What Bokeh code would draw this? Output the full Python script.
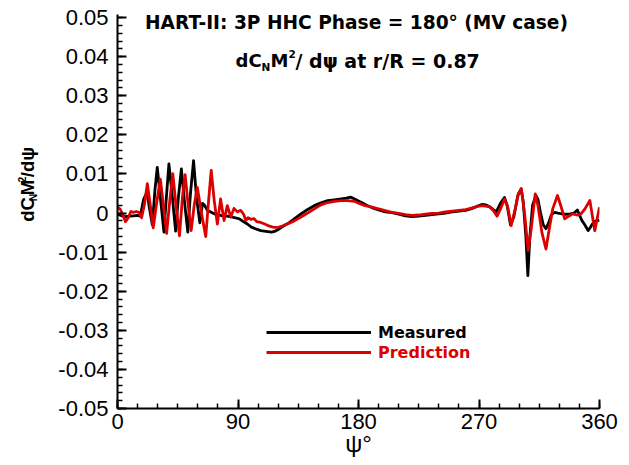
import math
from bokeh.plotting import figure
from bokeh.layouts import row
from bokeh.models import (Range1d, FixedTicker, Label, Legend, LegendItem,
                          CustomJSTickFormatter)
from bokeh.embed import file_html
from bokeh.resources import INLINE

# ---------------- data ----------------
psi_measured = [0, 3, 6, 9, 12, 15, 17, 19.5, 22, 24, 26, 28, 29.7, 32, 34.7, 36.5,
                38.4, 41, 43.4, 45.5, 47.7, 50, 52.5, 54.5, 56.8, 59, 61.5, 63.5, 65,
                67, 70, 73, 76, 79, 82, 85, 88, 91, 94, 97, 100, 103, 107, 111, 115,
                118, 121, 124.5, 128, 132, 137, 142, 147, 152, 157, 162, 167, 171,
                174, 177, 180, 183, 186, 190, 195, 200, 205, 210, 215, 220, 225, 230,
                235, 240, 245, 250, 255, 260, 265, 269, 272, 275, 278, 281, 283, 286,
                289, 291, 293.5, 296, 299, 301.5, 303, 305, 306.5, 308, 310, 312.5,
                314, 316, 318, 320, 322, 324, 326.5, 329, 332, 335, 338, 341, 343.5,
                345, 347, 349, 351.5, 354, 356, 358, 360]
measured = [-0.0003, -0.0007, -0.0009, -0.0008, -0.0007, -0.0006, -0.0008, 0.0035,
            0.0053, 0.001, -0.003, 0.006, 0.0117, 0.004, -0.0049, 0.004, 0.0126, 0.004,
            -0.0046, 0.004, 0.0113, 0.003, -0.0049, 0.005, 0.0134, 0.004, -0.0025,
            0.0025, 0.002, 0.0008, 0.0002, -0.0003, -0.0005, -0.0008, -0.0008, -0.001,
            -0.0012, -0.0015, -0.0022, -0.0028, -0.0036, -0.004, -0.0045, -0.0047,
            -0.0049, -0.0046, -0.004, -0.0032, -0.0025, -0.0015, -0.0002, 0.0009,
            0.0019, 0.0026, 0.0032, 0.0034, 0.0036, 0.0038, 0.0041, 0.0036, 0.0031,
            0.0026, 0.002, 0.0014, 0.0008, 0.0003, 0.0001, -0.0003, -0.0007, -0.0009,
            -0.0008, -0.0006, -0.0004, -0.0002, 0.0, 0.0003, 0.0005, 0.0007, 0.0012,
            0.0018, 0.0022, 0.0021, 0.0016, 0.0008, 0.0004, 0.0025, 0.004, 0.002,
            -0.003, -0.001, 0.0045, 0.0062, 0.003, -0.006, -0.016, -0.006, 0.002,
            0.0045, 0.0035, 0.0, -0.003, -0.004, -0.0025, -0.0005, 0.0002, 0.0,
            -0.0002, -0.0003, -0.0002, 0.0, 0.0008, -0.0005, -0.002, -0.003, -0.0045,
            -0.0032, -0.0022, -0.002, -0.0018]

psi_prediction = [0, 2, 4, 6, 8, 10, 12, 14, 16, 18, 20, 22.3, 24.5, 26.7, 29, 32,
                  34.3, 36.7, 39, 41.3, 43.7, 46.3, 48.5, 50.5, 52.5, 55, 57.3, 59.6,
                  62.7, 65.9, 68, 70, 72.3, 74.6, 77, 79.6, 82, 84.6, 87, 89.5, 92,
                  94.2, 95.8, 97.5, 99.5, 102, 104, 107, 110, 113, 116, 119.5, 123,
                  127, 132, 137, 142, 147, 152, 157, 162, 167, 172, 177, 181, 185,
                  190, 195, 200, 205, 210, 215, 220, 225, 230, 235, 240, 245, 250,
                  255, 260, 265, 269, 272, 275, 278, 281, 283.5, 286, 289, 291.5, 294,
                  297, 299.5, 301.6, 304, 306.7, 309, 312, 314, 317, 320, 322.5, 325,
                  328.6, 331, 334, 337, 340, 343, 346, 349, 352.8, 354.8, 356.5,
                  358.5, 360]
prediction = [0.0015, 0.001, -0.0005, -0.0022, -0.0012, 0.0004, 0.0002, 0.0004,
              0.0002, -0.0012, 0.002, 0.0075, 0.002, -0.0038, 0.002, 0.0087, 0.002,
              -0.0052, 0.003, 0.0101, 0.002, -0.0058, 0.004, 0.0098, 0.003, -0.0045,
              0.002, 0.0066, 0.0, -0.006, 0.003, 0.0109, 0.003, -0.0028, 0.0036,
              -0.0019, 0.0019, -0.001, 0.0012, 0.0003, 0.0007, -0.0003, -0.0019,
              -0.0012, -0.0016, -0.0014, -0.0022, -0.0024, -0.0028, -0.0033, -0.0036,
              -0.0037, -0.0033, -0.0028, -0.002, -0.001, 0.0, 0.0011, 0.0021, 0.0027,
              0.003, 0.0032, 0.0032, 0.003, 0.0024, 0.0019, 0.0015, 0.0011, 0.0006,
              0.0002, -0.0001, -0.0004, -0.0006, -0.0005, -0.0003, -0.0001, 0.0,
              0.0003, 0.0005, 0.0007, 0.0009, 0.0013, 0.0017, 0.0019, 0.0018, 0.0016,
              0.0005, -0.0008, 0.001, 0.0036, 0.0015, -0.0032, 0.001, 0.005, 0.0062,
              0.0, -0.0096, -0.004, 0.0049, 0.002, -0.005, -0.0092, -0.004, 0.001,
              0.0045, 0.002, -0.0015, -0.0008, -0.0002, -0.0005, -0.0003, 0.001,
              0.0032, -0.001, -0.0045, -0.001, 0.0015]

x_ticks = [0, 90, 180, 270, 360]
x_minor_ticks = [0, 15, 30, 45, 60, 75, 90, 105, 120, 135, 150, 165, 180, 195, 210,
                 225, 240, 255, 270, 285, 300, 315, 330, 345, 360]
y_ticks = [-0.05, -0.04, -0.03, -0.02, -0.01, 0.0, 0.01, 0.02, 0.03, 0.04, 0.05]
y_tick_labels = ["-0.05", "-0.04", "-0.03", "-0.02", "-0.01", "0", "0.01", "0.02",
                 "0.03", "0.04", "0.05"]
y_minor_ticks = [round(-0.05 + 0.002 * i, 4) for i in range(51)]

series_names = ["Measured", "Prediction"]
series_colors = ["black", "#dd0000"]
x_title = "ψ°"

# ---------------- layout (page pixels) ----------------
PAGE_W, PAGE_H = 625, 460
LEFT_W = 45                      # narrow panel holding the y-axis title
FRAME_L, FRAME_R, FRAME_T, FRAME_B = 117, 599, 14, 408
Y_BOT, Y_TOP = -0.05, 0.0508     # a little head-room so the title is not clipped

def X(px):
    return (px - FRAME_L) / (FRAME_R - FRAME_L) * 360.0
def Y(py):
    return Y_TOP - (py - FRAME_T) / (FRAME_B - FRAME_T) * (Y_TOP - Y_BOT)

W = PAGE_W - LEFT_W
p = figure(width=W, height=PAGE_H, x_range=Range1d(0, 360), y_range=Range1d(Y_BOT, Y_TOP),
           output_backend="svg", toolbar_location=None,
           min_border_left=FRAME_L - LEFT_W, min_border_right=PAGE_W - FRAME_R,
           min_border_top=FRAME_T, min_border_bottom=PAGE_H - FRAME_B)
p.xgrid.visible = False
p.ygrid.visible = False
p.outline_line_color = None
p.background_fill_color = "white"
p.border_fill_color = "white"

for ax in (p.xaxis[0], p.yaxis[0]):
    ax.axis_line_width = 2
    ax.axis_line_color = "black"
    ax.major_tick_in = 9
    ax.major_tick_out = 0
    ax.minor_tick_in = 5
    ax.minor_tick_out = 0
    ax.major_tick_line_width = 2
    ax.minor_tick_line_width = 1.5
    ax.major_tick_line_color = "black"
    ax.minor_tick_line_color = "black"
    ax.major_label_text_font = "Liberation Sans"
    ax.major_label_text_font_size = "22px"
    ax.major_label_text_color = "black"

p.xaxis[0].ticker = FixedTicker(ticks=x_ticks, minor_ticks=x_minor_ticks)
p.xaxis[0].major_label_standoff = 5
p.xaxis[0].axis_label = x_title
p.xaxis[0].axis_label_text_font = "Liberation Sans"
p.xaxis[0].axis_label_text_font_style = "normal"
p.xaxis[0].axis_label_text_font_size = "24px"
p.xaxis[0].axis_label_text_color = "black"
p.xaxis[0].axis_label_standoff = -2

p.yaxis[0].ticker = FixedTicker(ticks=y_ticks, minor_ticks=y_minor_ticks)
p.yaxis[0].major_label_standoff = 9
p.yaxis[0].formatter = CustomJSTickFormatter(
    args=dict(tick_vals=y_ticks, tick_texts=y_tick_labels),
    code="""
    for (let i = 0; i < tick_vals.length; i++) {
        if (Math.abs(tick_vals[i] - tick) < 1e-9) { return tick_texts[i]; }
    }
    return '';
    """)

r_meas = p.line(psi_measured, measured, line_color=series_colors[0], line_width=2.8,
                line_join="round")
r_pred = p.line(psi_prediction, prediction, line_color=series_colors[1], line_width=2.8,
                line_join="round")

# legends (one per series so that each label keeps its colour)
for r, name, col, ly in ((r_meas, series_names[0], series_colors[0], 332),
                         (r_pred, series_names[1], series_colors[1], 352)):
    leg = Legend(items=[LegendItem(label=name, renderers=[r])],
                 location=(266 - FRAME_L, FRAME_B - ly - 10),
                 border_line_color=None, background_fill_alpha=0, padding=0, margin=0,
                 spacing=0, glyph_width=105, glyph_height=20, label_height=20,
                 label_standoff=7, label_text_font="DejaVu Sans",
                 label_text_font_style="bold", label_text_font_size="16px",
                 label_text_color=col)
    p.add_layout(leg)

def add_label(fig, x, y, text, size, bold=True, font="DejaVu Sans", align="left",
              angle=0.0, color="black"):
    fig.add_layout(Label(x=x, y=y, text=text, text_font=font,
                         text_font_size=size,
                         text_font_style="bold" if bold else "normal",
                         text_align=align, text_baseline="middle", angle=angle,
                         text_color=color))

# title line 1
add_label(p, X(356), Y(22), "HART-II: 3P HHC Phase = 180° (MV case)", "18.6px",
          align="center")
# title line 2 : dC_N M^2 / dψ  at r/R = 0.87
add_label(p, X(235), Y(60), "dC", "18px")
add_label(p, X(261), Y(66), "N", "10.5px")
add_label(p, X(270), Y(60), "M", "18px")
add_label(p, X(288), Y(53), "2", "10.5px")
add_label(p, X(295), Y(60), " / dψ  at r/R = 0.87", "19px")

# ---------------- left panel with the rotated y-axis title ----------------
pl = figure(width=LEFT_W, height=PAGE_H, x_range=Range1d(0, LEFT_W),
            y_range=Range1d(0, PAGE_H), output_backend="svg", toolbar_location=None,
            min_border_left=0, min_border_right=0, min_border_top=0,
            min_border_bottom=0)
pl.axis.visible = False
pl.xgrid.visible = False
pl.ygrid.visible = False
pl.outline_line_color = None
pl.background_fill_color = "white"
pl.border_fill_color = "white"

rot = math.pi / 2
def yl(py):
    return PAGE_H - py
dy = 17   # measured offset correction
add_label(pl, 27, yl(225 + dy), "dC", "18.5px", font="Liberation Sans", angle=rot)
add_label(pl, 32, yl(201 + dy), "N", "10.5px", font="Liberation Sans", angle=rot)
add_label(pl, 27, yl(194 + dy), "M", "18.5px", font="Liberation Sans", angle=rot)
add_label(pl, 21, yl(179 + dy), "2", "10.5px", font="Liberation Sans", angle=rot)
add_label(pl, 27, yl(173 + dy), "/dψ", "18.5px", font="Liberation Sans", angle=rot)

layout = row(pl, p, spacing=0)
open("out.html", "w").write(file_html(layout, INLINE))
